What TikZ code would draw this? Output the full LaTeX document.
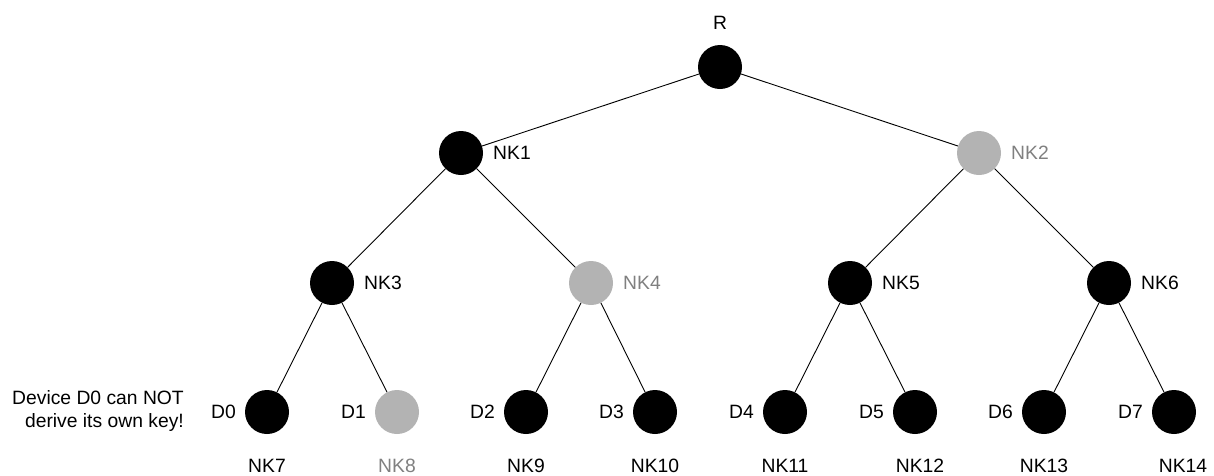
\documentclass[tikz,border=0pt]{standalone}
\usepackage{fontspec}
\setmainfont{Liberation Sans}
\definecolor{keygray}{RGB}{179,179,179}
\definecolor{labgray}{RGB}{128,128,128}
\tikzset{
  keynode/.style={circle,fill=black,minimum size=44pt,inner sep=0pt},
  lostnode/.style={circle,fill=keygray,minimum size=44pt,inner sep=0pt},
  lab/.style={inner sep=0pt,font=\fontsize{19.3}{22.5}\selectfont},
  rlab/.style={lab,anchor=west},
  llab/.style={lab,anchor=east},
  glab/.style={text=labgray},
  edge/.style={draw=black,line width=0.9pt}
}
\begin{document}
\begin{tikzpicture}[x=1pt,y=-1pt]
\useasboundingbox (0,0) rectangle (1214,475);
% nodes
\node[keynode] (R) at (720,67) {};
\node[keynode] (N1) at (461,153) {};
\node[lostnode] (N2) at (979,153) {};
\node[keynode] (N3) at (332,283) {};
\node[lostnode] (N4) at (591,283) {};
\node[keynode] (N5) at (850,283) {};
\node[keynode] (N6) at (1109,283) {};
\node[keynode] (L0) at (267,412) {};
\node[lostnode] (L1) at (397,412) {};
\node[keynode] (L2) at (526,412) {};
\node[keynode] (L3) at (655,412) {};
\node[keynode] (L4) at (785,412) {};
\node[keynode] (L5) at (915,412) {};
\node[keynode] (L6) at (1044,412) {};
\node[keynode] (L7) at (1174,412) {};
% edges
\path[edge] (R) -- (N1);
\path[edge] (R) -- (N2);
\path[edge] (N1) -- (N3);
\path[edge] (N1) -- (N4);
\path[edge] (N2) -- (N5);
\path[edge] (N2) -- (N6);
\path[edge] (N3) -- (L0);
\path[edge] (N3) -- (L1);
\path[edge] (N4) -- (L2);
\path[edge] (N4) -- (L3);
\path[edge] (N5) -- (L4);
\path[edge] (N5) -- (L5);
\path[edge] (N6) -- (L6);
\path[edge] (N6) -- (L7);
% labels of inner nodes
\node[lab] (tR) at (720,23) {R};
\node[rlab] (tN1) at ([xshift=32pt]N1.center) {NK1};
\node[rlab,glab] (tN2) at ([xshift=32pt]N2.center) {NK2};
\node[rlab] (tN3) at ([xshift=32pt]N3.center) {NK3};
\node[rlab,glab] (tN4) at ([xshift=32pt]N4.center) {NK4};
\node[rlab] (tN5) at ([xshift=32pt]N5.center) {NK5};
\node[rlab] (tN6) at ([xshift=32pt]N6.center) {NK6};
% device labels
\node[llab] (d0) at ([xshift=-31pt]L0.center) {D0};
\node[llab] (d1) at ([xshift=-31pt]L1.center) {D1};
\node[llab] (d2) at ([xshift=-31pt]L2.center) {D2};
\node[llab] (d3) at ([xshift=-31pt]L3.center) {D3};
\node[llab] (d4) at ([xshift=-31pt]L4.center) {D4};
\node[llab] (d5) at ([xshift=-31pt]L5.center) {D5};
\node[llab] (d6) at ([xshift=-31pt]L6.center) {D6};
\node[llab] (d7) at ([xshift=-31pt]L7.center) {D7};
% leaf key labels
\node[lab] (k7) at (267,466) {NK7};
\node[lab,glab] (k8) at (397,466) {NK8};
\node[lab] (k9) at (526,466) {NK9};
\node[lab] (k10) at (655,466) {NK10};
\node[lab] (k11) at (785,466) {NK11};
\node[lab] (k12) at (920,466) {NK12};
\node[lab] (k13) at (1044,466) {NK13};
\node[lab] (k14) at (1183,466) {NK14};
% note
\node[lab,anchor=east,align=right] (note) at (184,411) {Device D0 can NOT\\derive its own key!};
\end{tikzpicture}
\end{document}
